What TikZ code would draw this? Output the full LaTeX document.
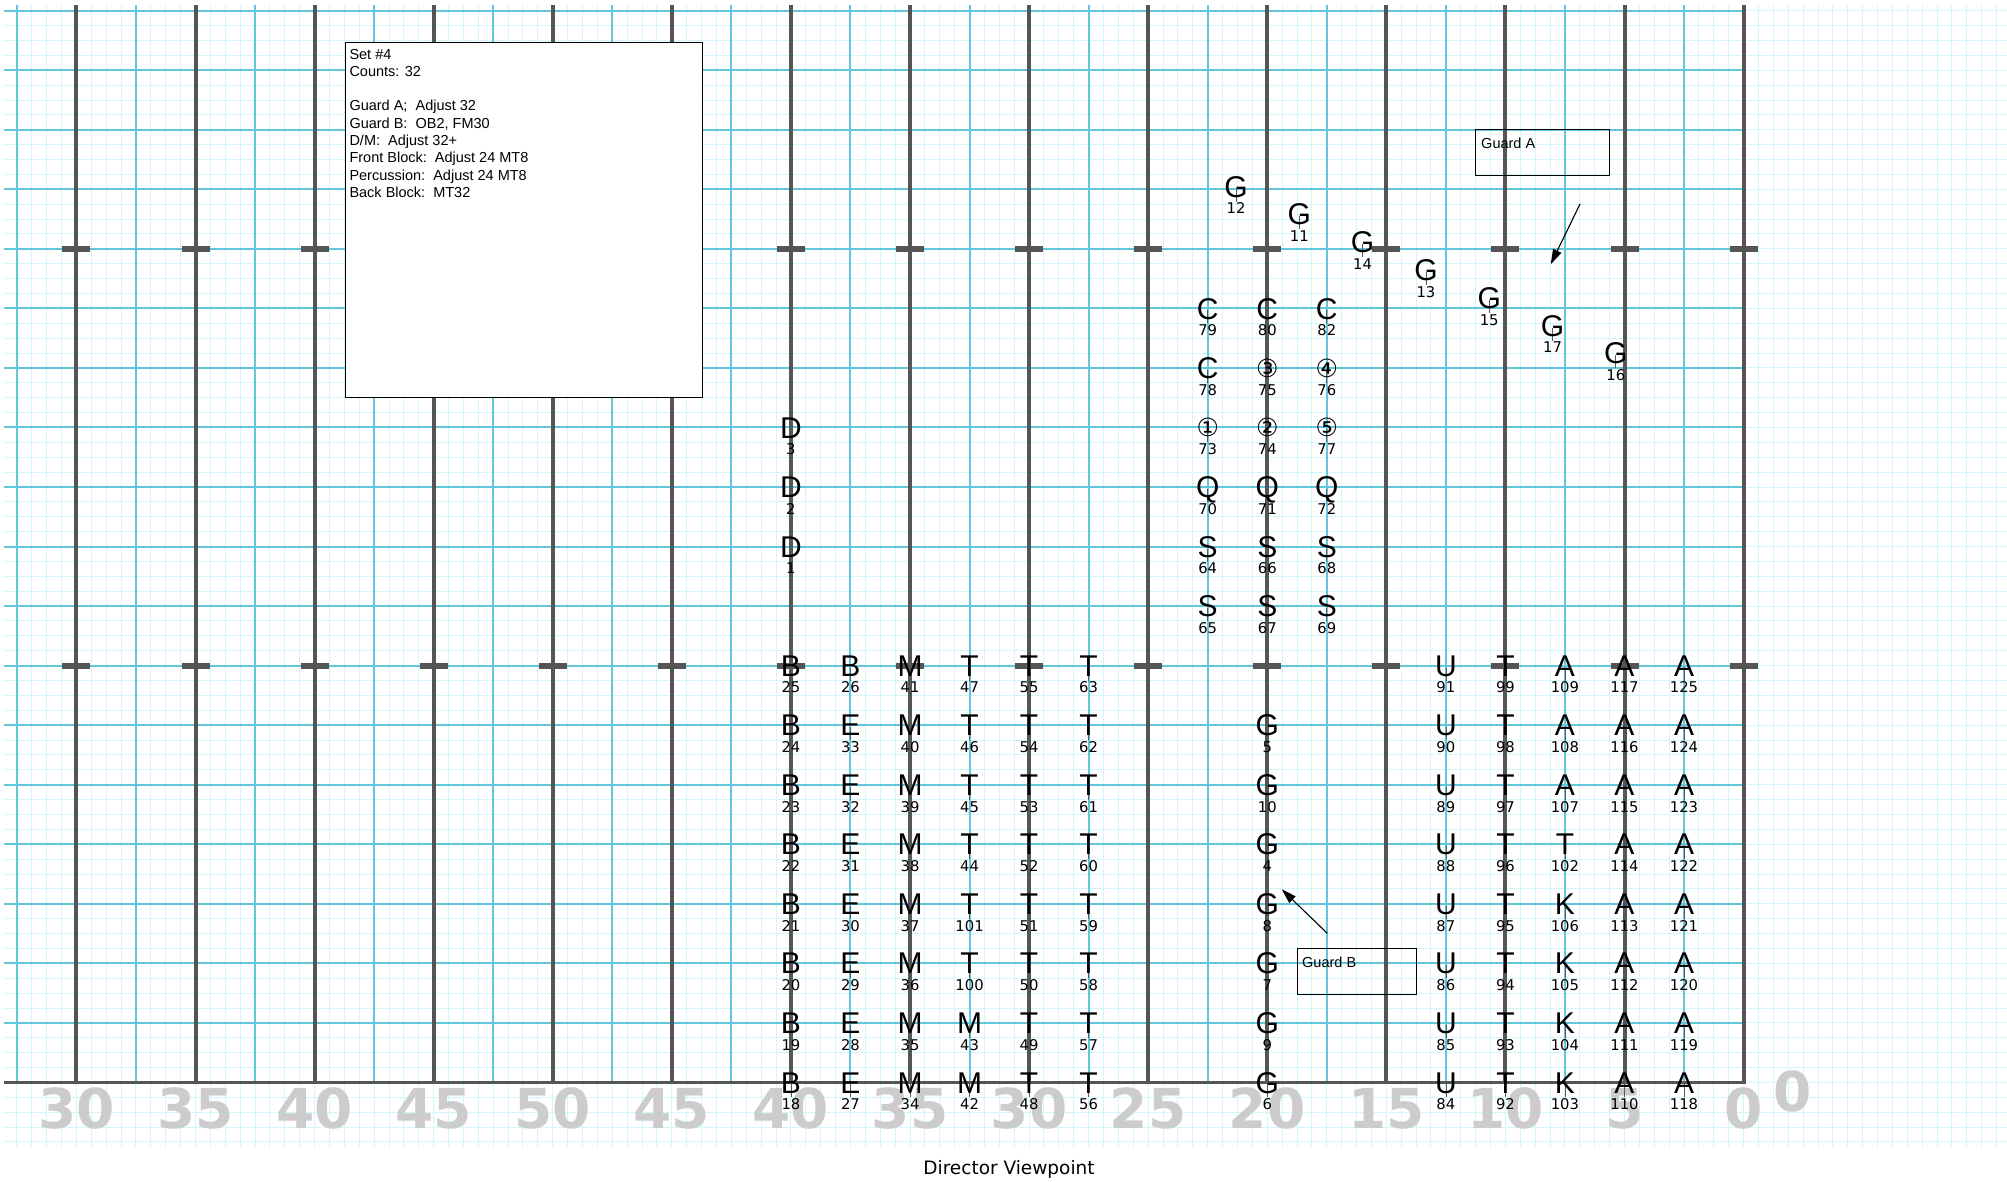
\documentclass[tikz,border=0pt]{standalone}
\usepackage{fontspec}
\setmainfont{Liberation Sans}
\newfontfamily\numfont{DejaVu Sans}
\usetikzlibrary{arrows.meta}
\definecolor{faintc}{RGB}{208,247,251}
\definecolor{medc}{RGB}{98,198,220}
\definecolor{darkc}{RGB}{85,85,85}
\definecolor{yardc}{RGB}{204,204,204}
\tikzset{
  faint/.style={draw=faintc, line width=1pt},
  medline/.style={draw=medc, line width=2pt},
  yardline/.style={draw=darkc, line width=4pt},
  hashmark/.style={draw=darkc, line width=6pt},
  ltr/.style={inner sep=0pt, anchor=base, font=\fontsize{30}{30}\selectfont},
  circ/.style={inner sep=0pt, anchor=center, font=\numfont\fontsize{25}{25}\selectfont},
  num/.style={inner sep=0pt, anchor=base, font=\numfont\fontsize{14.8}{14.8}\selectfont},
  tickm/.style={draw=black!65, line width=0.7pt},
  yardnum/.style={text=yardc, inner sep=0pt, anchor=base, font=\numfont\bfseries\fontsize{55}{55}\selectfont},
  boxtxt/.style={inner sep=0pt, anchor=base west, font=\fontsize{14.5}{14.5}\selectfont},
  labelbox/.style={draw=black, line width=1pt, inner sep=0pt, anchor=north west},
  arr/.style={line width=1.1pt, -{Triangle[length=15pt,width=9pt]}}
}
\newcommand\drillxy[4]{%
  \draw[tickm] (#1,#2+2) -- (#1,#2+15);
  \node[ltr] (p#4) at (#1,#2+10.6) {#3};
  \node[num] (n#4) at (#1,#2+27.3) {#4};}
\newcommand\drillpt[4]{%
  \pgfmathsetmacro\pxx{16.9+#1*14.885}\pgfmathsetmacro\pyy{10.7+#2*14.885}%
  \drillxy{\pxx}{\pyy}{#3}{#4}}
\newcommand\drillcirc[4]{%
  \pgfmathsetmacro\pxx{16.9+#1*14.885}\pgfmathsetmacro\pyy{10.7+#2*14.885}%
  \draw[tickm] (\pxx,\pyy+2) -- (\pxx,\pyy+15);
  \node[circ] (p#4) at (\pxx,\pyy) {#3};
  \node[num] (n#4) at (\pxx,\pyy+27.3) {#4};}
\begin{document}
\begin{tikzpicture}[x=1pt,y=-1pt]
\useasboundingbox (0,0) rectangle (2007,1181);
\fill[white] (0,0) rectangle (2007,1181);
% faint grid
\foreach \m in {0,...,133} \draw[faint] ({16.9+\m*14.885},5) -- ({16.9+\m*14.885},1147);
\foreach \n in {0,...,76} \draw[faint] (4,{10.7+\n*14.885}) -- (2007,{10.7+\n*14.885});
% medium grid
\foreach \m in {0,8,...,112} \draw[medline] ({16.9+\m*14.885},5) -- ({16.9+\m*14.885},1082.4);
\foreach \n in {0,4,...,68} \draw[medline] (4,{10.7+\n*14.885}) -- (1743.6,{10.7+\n*14.885});
% yard numbers
\foreach \lab [count=\i from 0] in {30,35,40,45,50,45,40,35,30,25,20,15,10,5,0}
  \node[yardnum] (yn\i) at ({76.44+119.08*\i},1128.3) {\lab};
\node[yardnum] (ynextra) at (1793,1111) {0};
% yard lines, hashes, sideline
\foreach \i in {0,...,14} {
  \draw[hashmark] ({76.44+119.08*\i-14},248.9) -- ({76.44+119.08*\i+14},248.9);
  \draw[hashmark] ({76.44+119.08*\i-14},665.6) -- ({76.44+119.08*\i+14},665.6);
  \draw[yardline] ({76.44+119.08*\i},5) -- ({76.44+119.08*\i},1082.4);
}
\draw[draw=darkc, line width=3.5pt] (4,1082.4) -- (1745.6,1082.4);
% set box
\node[labelbox, fill=white, minimum width=357pt, minimum height=355.3pt] (setbox) at (345,41.7) {};
\node[boxtxt] (t1) at (349.3,59) {Set \#4};
\node[boxtxt] (t2) at (349.3,76.3) {Counts: 32};
\node[boxtxt] (t3) at (349.3,110.9) {Guard A;\ \ Adjust 32};
\node[boxtxt] (t4) at (349.3,128.2) {Guard B:\ \ OB2, FM30};
\node[boxtxt] (t5) at (349.3,145.5) {D/M:\ \ Adjust 32+};
\node[boxtxt] (t6) at (349.3,162.8) {Front Block:\ \ Adjust 24 MT8};
\node[boxtxt] (t7) at (349.3,180.1) {Percussion:\ \ Adjust 24 MT8};
\node[boxtxt] (t8) at (349.3,197.4) {Back Block:\ \ MT32};
% guard label boxes
\node[labelbox, minimum width=134pt, minimum height=45.4pt] (gabox) at (1475.3,129.3) {};
\node[boxtxt] (gatxt) at (1481,148) {Guard A};
\node[labelbox, minimum width=118.7pt, minimum height=45.4pt] (gbbox) at (1297.3,948.3) {};
\node[boxtxt] (gbtxt) at (1302,967) {Guard B};
\coordinate (gaS) at (1580,204);
\coordinate (gaT) at (1550.7,264.3);
\draw[arr] (gaS) -- (gaT);
\coordinate (gbS) at (1327.3,933.3);
\coordinate (gbT) at (1281.7,889.3);
\draw[arr] (gbS) -- (gbT);
% front block
\foreach \m/\n/\L/\k in {
 52/44/B/25, 56/44/B/26, 60/44/M/41, 64/44/T/47, 68/44/T/55, 72/44/T/63,
 52/48/B/24, 56/48/E/33, 60/48/M/40, 64/48/T/46, 68/48/T/54, 72/48/T/62,
 52/52/B/23, 56/52/E/32, 60/52/M/39, 64/52/T/45, 68/52/T/53, 72/52/T/61,
 52/56/B/22, 56/56/E/31, 60/56/M/38, 64/56/T/44, 68/56/T/52, 72/56/T/60,
 52/60/B/21, 56/60/E/30, 60/60/M/37, 64/60/T/101, 68/60/T/51, 72/60/T/59,
 52/64/B/20, 56/64/E/29, 60/64/M/36, 64/64/T/100, 68/64/T/50, 72/64/T/58,
 52/68/B/19, 56/68/E/28, 60/68/M/35, 64/68/M/43, 68/68/T/49, 72/68/T/57,
 52/72/B/18, 56/72/E/27, 60/72/M/34, 64/72/M/42, 68/72/T/48, 72/72/T/56}
 {\drillpt{\m}{\n}{\L}{\k}}
% right block
\foreach \m/\n/\L/\k in {
 96/44/U/91, 100/44/T/99, 104/44/A/109, 108/44/A/117, 112/44/A/125,
 96/48/U/90, 100/48/T/98, 104/48/A/108, 108/48/A/116, 112/48/A/124,
 96/52/U/89, 100/52/T/97, 104/52/A/107, 108/52/A/115, 112/52/A/123,
 96/56/U/88, 100/56/T/96, 104/56/T/102, 108/56/A/114, 112/56/A/122,
 96/60/U/87, 100/60/T/95, 104/60/K/106, 108/60/A/113, 112/60/A/121,
 96/64/U/86, 100/64/T/94, 104/64/K/105, 108/64/A/112, 112/64/A/120,
 96/68/U/85, 100/68/T/93, 104/68/K/104, 108/68/A/111, 112/68/A/119,
 96/72/U/84, 100/72/T/92, 104/72/K/103, 108/72/A/110, 112/72/A/118}
 {\drillpt{\m}{\n}{\L}{\k}}
% guard B column
\foreach \n/\k in {48/5, 52/10, 56/4, 60/8, 64/7, 68/9, 72/6}
 {\drillpt{84}{\n}{G}{\k}}
% drum majors
\foreach \n/\k in {28/3, 32/2, 36/1}
 {\drillpt{52}{\n}{D}{\k}}
% pit / percussion
\foreach \m/\n/\L/\k in {
 80/20/C/79, 84/20/C/80, 88/20/C/82,
 80/24/C/78,
 80/32/Q/70, 84/32/Q/71, 88/32/Q/72,
 80/36/S/64, 84/36/S/66, 88/36/S/68,
 80/40/S/65, 84/40/S/67, 88/40/S/69}
 {\drillpt{\m}{\n}{\L}{\k}}
\drillcirc{84}{24}{③}{75}
\drillcirc{88}{24}{④}{76}
\drillcirc{80}{28}{①}{73}
\drillcirc{84}{28}{②}{74}
\drillcirc{88}{28}{⑤}{77}
% guard A
\foreach \k [count=\j from 0] in {12,11,14,13,15,17,16}
 {\pgfmathsetmacro\gx{1236+63.3*\j}\pgfmathsetmacro\gy{186.5+27.8*\j}%
  \drillxy{\gx}{\gy}{G}{\k}}
% footer
\node[inner sep=0pt, anchor=base, font=\numfont\fontsize{18.5}{18.5}\selectfont] (dv) at (1009,1174.5) {Director Viewpoint};
\end{tikzpicture}
\end{document}
